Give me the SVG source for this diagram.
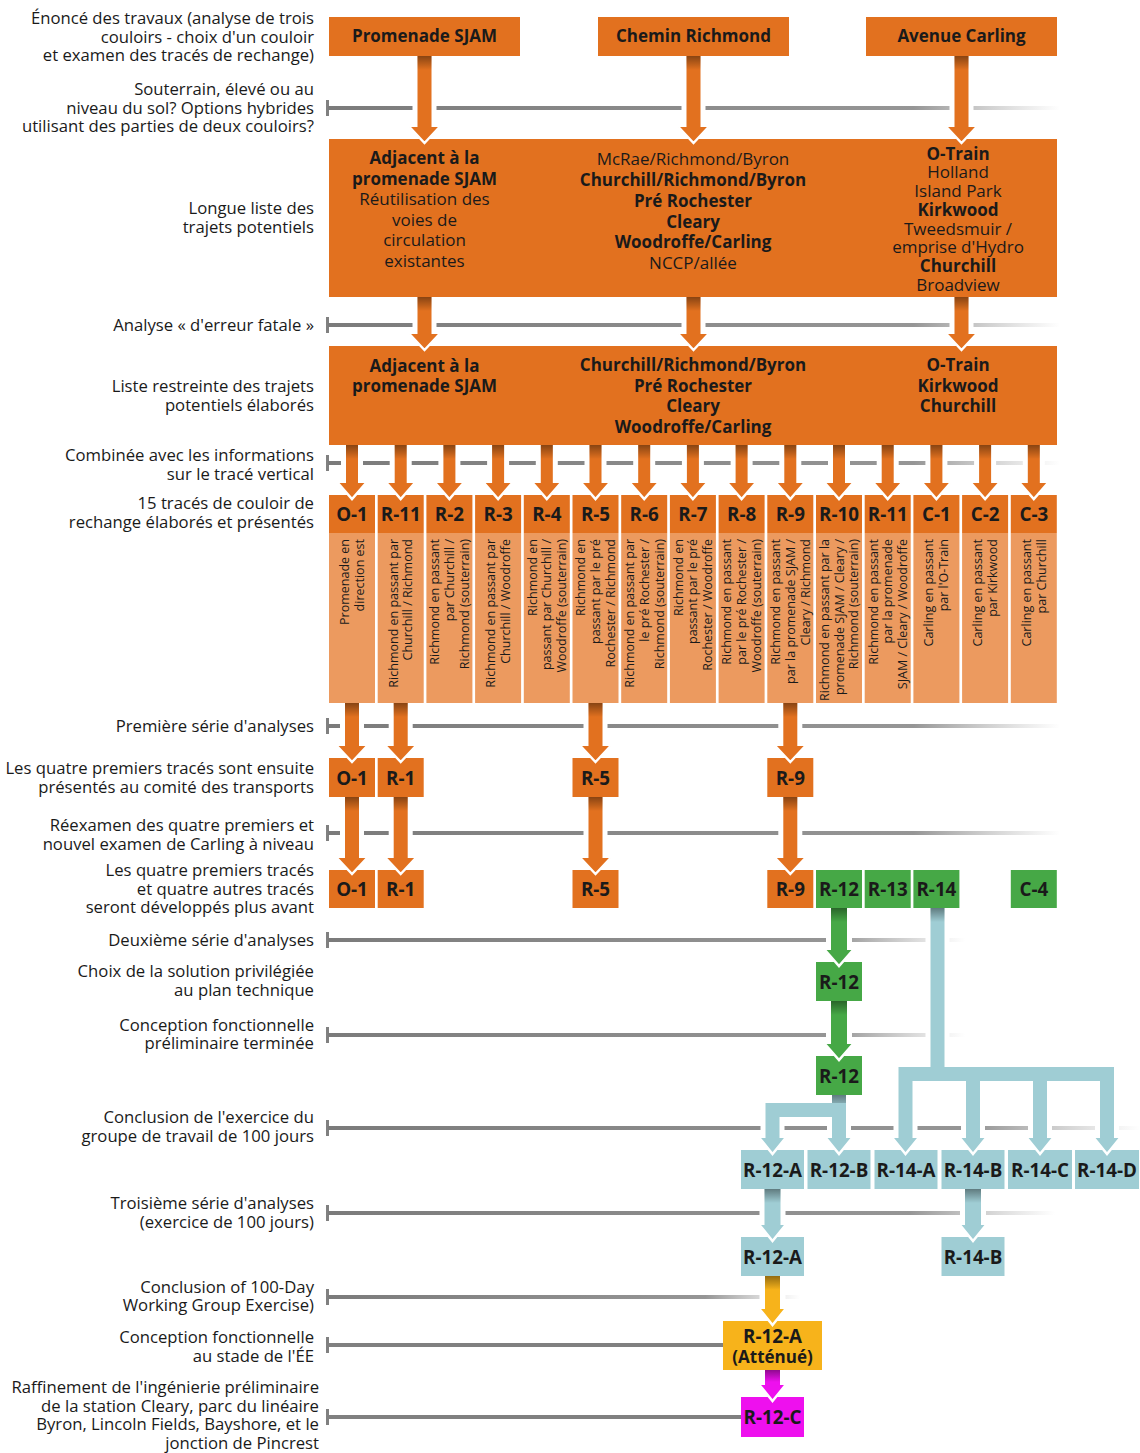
<svg xmlns="http://www.w3.org/2000/svg" width="1140" height="1453" viewBox="0 0 1140 1453">
<defs>
<linearGradient id="fade" x1="0" y1="0" x2="1" y2="0">
<stop offset="0" stop-color="#7b7b7b" stop-opacity="1"/>
<stop offset="0.8" stop-color="#8a8a8a" stop-opacity="0.9"/>
<stop offset="1" stop-color="#a0a0a0" stop-opacity="0"/>
</linearGradient>
<linearGradient id="sh" x1="0" y1="0" x2="0" y2="1">
<stop offset="0" stop-color="#000" stop-opacity="0.4"/>
<stop offset="1" stop-color="#000" stop-opacity="0"/>
</linearGradient>
<style>
text{font-family:"Open Sans","Noto Sans",sans-serif;fill:#1a1a1a}
.lbl{font-size:16.7px;text-anchor:end}
.bt{font-size:17px;font-weight:700;text-anchor:middle}
.nt{font-size:17px;text-anchor:middle}
.hd{font-size:18.8px;font-weight:700;text-anchor:middle}
.hs{font-size:17px;font-weight:700;text-anchor:middle}
.rt{font-size:12.5px;text-anchor:end}
.o{fill:#e2711f}
.lo{fill:#ec9a5f}
.g{fill:#46a846}
.b{fill:#9fcdd4}
.y{fill:#f7b31b}
.m{fill:#ee10ee}
.tl{fill:url(#fade)}
.tk{fill:#808080}
.halo{fill:#fff}
.chev{fill:none;stroke:#fff;stroke-width:2.5}
.shd{fill:url(#sh)}
</style>
</defs>

<g id="labels">
<text class="lbl" x="314" y="23.5">Énoncé des travaux (analyse de trois</text>
<text class="lbl" x="314" y="42.5">couloirs - choix d'un couloir</text>
<text class="lbl" x="314" y="60.5">et examen des tracés de rechange)</text>
<text class="lbl" x="314" y="94.5">Souterrain, élevé ou au</text>
<text class="lbl" x="314" y="113.5">niveau du sol? Options hybrides</text>
<text class="lbl" x="314" y="131.5">utilisant des parties de deux couloirs?</text>
<text class="lbl" x="314" y="213.5">Longue liste des</text>
<text class="lbl" x="314" y="232.5">trajets potentiels</text>
<text class="lbl" x="314" y="330.5">Analyse « d'erreur fatale »</text>
<text class="lbl" x="314" y="391.5">Liste restreinte des trajets</text>
<text class="lbl" x="314" y="410.5">potentiels élaborés</text>
<text class="lbl" x="314" y="460.5">Combinée avec les informations</text>
<text class="lbl" x="314" y="479.5">sur le tracé vertical</text>
<text class="lbl" x="314" y="508.5">15 tracés de couloir de</text>
<text class="lbl" x="314" y="527.5">rechange élaborés et présentés</text>
<text class="lbl" x="314" y="731.5">Première série d'analyses</text>
<text class="lbl" x="314" y="773.5">Les quatre premiers tracés sont ensuite</text>
<text class="lbl" x="314" y="792.5">présentés au comité des transports</text>
<text class="lbl" x="314" y="830.5">Réexamen des quatre premiers et</text>
<text class="lbl" x="314" y="849.5">nouvel examen de Carling à niveau</text>
<text class="lbl" x="314" y="875.5">Les quatre premiers tracés</text>
<text class="lbl" x="314" y="894.5">et quatre autres tracés</text>
<text class="lbl" x="314" y="912.5">seront développés plus avant</text>
<text class="lbl" x="314" y="945.5">Deuxième série d'analyses</text>
<text class="lbl" x="314" y="976.5">Choix de la solution privilégiée</text>
<text class="lbl" x="314" y="995.5">au plan technique</text>
<text class="lbl" x="314" y="1030.5">Conception fonctionnelle</text>
<text class="lbl" x="314" y="1048.5">préliminaire terminée</text>
<text class="lbl" x="314" y="1122.5">Conclusion de l'exercice du</text>
<text class="lbl" x="314" y="1141.5">groupe de travail de 100 jours</text>
<text class="lbl" x="314" y="1208.5">Troisième série d'analyses</text>
<text class="lbl" x="314" y="1227.5">(exercice de 100 jours)</text>
<text class="lbl" x="314" y="1292.5">Conclusion of 100-Day</text>
<text class="lbl" x="314" y="1310.5">Working Group Exercise)</text>
<text class="lbl" x="314" y="1342.5">Conception fonctionnelle</text>
<text class="lbl" x="314" y="1361.5">au stade de l'ÉE</text>
<text class="lbl" x="319" y="1392.5">Raffinement de l'ingénierie préliminaire</text>
<text class="lbl" x="319" y="1411.5">de la station Cleary, parc du linéaire</text>
<text class="lbl" x="319" y="1429.5">Byron, Lincoln Fields, Bayshore, et le</text>
<text class="lbl" x="319" y="1448.5">jonction de Pincrest</text>
</g>

<g id="timelines">
<rect class="tk" x="326" y="100" width="3" height="16"/><rect class="tl" x="328" y="106" width="732" height="4"/>
<rect class="tk" x="326" y="317" width="3" height="16"/><rect class="tl" x="328" y="323" width="732" height="4"/>
<rect class="tk" x="326" y="455" width="3" height="16"/><rect class="tl" x="328" y="461" width="732" height="4"/>
<rect class="tk" x="326" y="718" width="3" height="16"/><rect class="tl" x="328" y="724" width="732" height="4"/>
<rect class="tk" x="326" y="825" width="3" height="16"/><rect class="tl" x="328" y="831" width="732" height="4"/>
<rect class="tk" x="326" y="932" width="3" height="16"/><rect class="tl" x="328" y="938" width="637" height="4"/>
<rect class="tk" x="326" y="1027" width="3" height="16"/><rect class="tl" x="328" y="1033" width="637" height="4"/>
<rect class="tk" x="326" y="1120" width="3" height="16"/><rect class="tl" x="328" y="1126" width="812" height="4"/>
<rect class="tk" x="326" y="1205" width="3" height="16"/><rect class="tl" x="328" y="1211" width="727" height="4"/>
<rect class="tk" x="326" y="1289" width="3" height="16"/><rect class="tl" x="328" y="1295" width="472" height="4"/>
<rect class="tk" x="326" y="1337" width="3" height="16"/><rect class="tk" x="328" y="1343" width="396" height="4"/>
<rect class="tk" x="326" y="1409" width="3" height="16"/><rect class="tk" x="328" y="1415" width="414" height="4"/>
</g>

<g id="halos">
<rect class="halo" x="412.5" y="104" width="24" height="8"/><rect class="halo" x="681.5" y="104" width="24" height="8"/><rect class="halo" x="949.5" y="104" width="24" height="8"/>
<rect class="halo" x="412.5" y="321" width="24" height="8"/><rect class="halo" x="681.5" y="321" width="24" height="8"/><rect class="halo" x="949.5" y="321" width="24" height="8"/>
<rect class="halo" x="341" y="459" width="22" height="8"/><rect class="halo" x="389.7" y="459" width="22" height="8"/><rect class="halo" x="438.4" y="459" width="22" height="8"/><rect class="halo" x="487.1" y="459" width="22" height="8"/><rect class="halo" x="535.8" y="459" width="22" height="8"/><rect class="halo" x="584.5" y="459" width="22" height="8"/><rect class="halo" x="633.2" y="459" width="22" height="8"/><rect class="halo" x="681.9" y="459" width="22" height="8"/><rect class="halo" x="730.6" y="459" width="22" height="8"/><rect class="halo" x="779.3" y="459" width="22" height="8"/><rect class="halo" x="828" y="459" width="22" height="8"/><rect class="halo" x="876.7" y="459" width="22" height="8"/><rect class="halo" x="925.4" y="459" width="22" height="8"/><rect class="halo" x="974.1" y="459" width="22" height="8"/><rect class="halo" x="1022.8" y="459" width="22" height="8"/>
<rect class="halo" x="340" y="722" width="24" height="8"/><rect class="halo" x="388.7" y="722" width="24" height="8"/><rect class="halo" x="583.5" y="722" width="24" height="8"/><rect class="halo" x="778.3" y="722" width="24" height="8"/>
<rect class="halo" x="340" y="829" width="24" height="8"/><rect class="halo" x="388.7" y="829" width="24" height="8"/><rect class="halo" x="583.5" y="829" width="24" height="8"/><rect class="halo" x="778.3" y="829" width="24" height="8"/>
<rect class="halo" x="826" y="936" width="26" height="8"/><rect class="halo" x="925.5" y="936" width="24" height="8"/>
<rect class="halo" x="826" y="1031" width="26" height="8"/><rect class="halo" x="925.5" y="1031" width="24" height="8"/>
<rect class="halo" x="760.5" y="1124" width="24" height="8"/><rect class="halo" x="827" y="1124" width="24" height="8"/><rect class="halo" x="893.5" y="1124" width="24" height="8"/><rect class="halo" x="961" y="1124" width="24" height="8"/><rect class="halo" x="1028" y="1124" width="24" height="8"/><rect class="halo" x="1095" y="1124" width="24" height="8"/>
<rect class="halo" x="759.5" y="1209" width="26" height="8"/><rect class="halo" x="960" y="1209" width="26" height="8"/>
<rect class="halo" x="759.5" y="1293" width="26" height="8"/>
</g>

<g id="n-top-sjam"><rect class="o" x="329" y="17" width="191" height="39"/><text class="bt" x="424.5" y="42">Promenade SJAM</text></g>
<g id="n-top-richmond"><rect class="o" x="598" y="17" width="191" height="39"/><text class="bt" x="693.5" y="42">Chemin Richmond</text></g>
<g id="n-top-carling"><rect class="o" x="866" y="17" width="191" height="39"/><text class="bt" x="961.5" y="42">Avenue Carling</text></g>

<g id="n-longlist">
<rect class="o" x="329" y="139" width="728" height="158"/>
<text class="bt" x="424.5" y="164">Adjacent à la</text>
<text class="bt" x="424.5" y="184.5">promenade SJAM</text>
<text class="nt" x="424.5" y="205">Réutilisation des</text>
<text class="nt" x="424.5" y="225.5">voies de</text>
<text class="nt" x="424.5" y="246">circulation</text>
<text class="nt" x="424.5" y="266.5">existantes</text>
<text class="nt" x="693" y="165">McRae/Richmond/Byron</text>
<text class="bt" x="693" y="186">Churchill/Richmond/Byron</text>
<text class="bt" x="693" y="207">Pré Rochester</text>
<text class="bt" x="693" y="228">Cleary</text>
<text class="bt" x="693" y="248">Woodroffe/Carling</text>
<text class="nt" x="693" y="269">NCCP/allée</text>
<text class="bt" x="958" y="160">O-Train</text>
<text class="nt" x="958" y="178">Holland</text>
<text class="nt" x="958" y="197">Island Park</text>
<text class="bt" x="958" y="216">Kirkwood</text>
<text class="nt" x="958" y="235">Tweedsmuir /</text>
<text class="nt" x="958" y="253">emprise d'Hydro</text>
<text class="bt" x="958" y="272">Churchill</text>
<text class="nt" x="958" y="291">Broadview</text>
</g>

<g id="n-shortlist">
<rect class="o" x="329" y="346" width="728" height="99"/>
<text class="bt" x="424.5" y="372">Adjacent à la</text>
<text class="bt" x="424.5" y="392">promenade SJAM</text>
<text class="bt" x="693" y="371">Churchill/Richmond/Byron</text>
<text class="bt" x="693" y="392">Pré Rochester</text>
<text class="bt" x="693" y="412">Cleary</text>
<text class="bt" x="693" y="433">Woodroffe/Carling</text>
<text class="bt" x="958" y="371">O-Train</text>
<text class="bt" x="958" y="392">Kirkwood</text>
<text class="bt" x="958" y="412">Churchill</text>
</g>

<g id="n-c-O1"><rect class="o" x="329" y="495" width="46" height="38"/><rect class="lo" x="329" y="533" width="46" height="170"/><text class="hd" x="352" y="521">O-1</text>
<text class="rt" transform="translate(349,539) rotate(-90)"><tspan x="0" y="0">Promenade en</tspan><tspan x="0" y="14.8">direction est</tspan></text></g>
<g id="n-c-R11a"><rect class="o" x="377.7" y="495" width="46" height="38"/><rect class="lo" x="377.7" y="533" width="46" height="170"/><text class="hd" x="400.7" y="521">R-11</text>
<text class="rt" transform="translate(397.7,539) rotate(-90)"><tspan x="0" y="0">Richmond en passant par</tspan><tspan x="0" y="14.8">Churchill / Richmond</tspan></text></g>
<g id="n-c-R2"><rect class="o" x="426.4" y="495" width="46" height="38"/><rect class="lo" x="426.4" y="533" width="46" height="170"/><text class="hd" x="449.4" y="521">R-2</text>
<text class="rt" transform="translate(439.2,539) rotate(-90)"><tspan x="0" y="0">Richmond en passant</tspan><tspan x="0" y="14.8">par Churchill /</tspan><tspan x="0" y="29.6">Richmond (souterrain)</tspan></text></g>
<g id="n-c-R3"><rect class="o" x="475.1" y="495" width="46" height="38"/><rect class="lo" x="475.1" y="533" width="46" height="170"/><text class="hd" x="498.1" y="521">R-3</text>
<text class="rt" transform="translate(495.1,539) rotate(-90)"><tspan x="0" y="0">Richmond en passant par</tspan><tspan x="0" y="14.8">Churchill / Woodroffe</tspan></text></g>
<g id="n-c-R4"><rect class="o" x="523.8" y="495" width="46" height="38"/><rect class="lo" x="523.8" y="533" width="46" height="170"/><text class="hd" x="546.8" y="521">R-4</text>
<text class="rt" transform="translate(536.6,539) rotate(-90)"><tspan x="0" y="0">Richmond en</tspan><tspan x="0" y="14.8">passant par Churchill /</tspan><tspan x="0" y="29.6">Woodroffe (souterrain)</tspan></text></g>
<g id="n-c-R5"><rect class="o" x="572.5" y="495" width="46" height="38"/><rect class="lo" x="572.5" y="533" width="46" height="170"/><text class="hd" x="595.5" y="521">R-5</text>
<text class="rt" transform="translate(585.3,539) rotate(-90)"><tspan x="0" y="0">Richmond en</tspan><tspan x="0" y="14.8">passant par le pré</tspan><tspan x="0" y="29.6">Rochester / Richmond</tspan></text></g>
<g id="n-c-R6"><rect class="o" x="621.2" y="495" width="46" height="38"/><rect class="lo" x="621.2" y="533" width="46" height="170"/><text class="hd" x="644.2" y="521">R-6</text>
<text class="rt" transform="translate(634,539) rotate(-90)"><tspan x="0" y="0">Richmond en passant par</tspan><tspan x="0" y="14.8">le pré Rochester /</tspan><tspan x="0" y="29.6">Richmond (souterrain)</tspan></text></g>
<g id="n-c-R7"><rect class="o" x="669.9" y="495" width="46" height="38"/><rect class="lo" x="669.9" y="533" width="46" height="170"/><text class="hd" x="692.9" y="521">R-7</text>
<text class="rt" transform="translate(682.7,539) rotate(-90)"><tspan x="0" y="0">Richmond en</tspan><tspan x="0" y="14.8">passant par le pré</tspan><tspan x="0" y="29.6">Rochester / Woodroffe</tspan></text></g>
<g id="n-c-R8"><rect class="o" x="718.6" y="495" width="46" height="38"/><rect class="lo" x="718.6" y="533" width="46" height="170"/><text class="hd" x="741.6" y="521">R-8</text>
<text class="rt" transform="translate(731.4,539) rotate(-90)"><tspan x="0" y="0">Richmond en passant</tspan><tspan x="0" y="14.8">par le pré Rochester /</tspan><tspan x="0" y="29.6">Woodroffe  (souterrain)</tspan></text></g>
<g id="n-c-R9"><rect class="o" x="767.3" y="495" width="46" height="38"/><rect class="lo" x="767.3" y="533" width="46" height="170"/><text class="hd" x="790.3" y="521">R-9</text>
<text class="rt" transform="translate(780.1,539) rotate(-90)"><tspan x="0" y="0">Richmond en passant</tspan><tspan x="0" y="14.8">par la promenade SJAM /</tspan><tspan x="0" y="29.6">Cleary / Richmond</tspan></text></g>
<g id="n-c-R10"><rect class="o" x="816" y="495" width="46" height="38"/><rect class="lo" x="816" y="533" width="46" height="170"/><text class="hd" x="839" y="521">R-10</text>
<text class="rt" transform="translate(828.8,539) rotate(-90)"><tspan x="0" y="0">Richmond en passant par la</tspan><tspan x="0" y="14.8">promenade SJAM / Cleary /</tspan><tspan x="0" y="29.6">Richmond (souterrain)</tspan></text></g>
<g id="n-c-R11b"><rect class="o" x="864.7" y="495" width="46" height="38"/><rect class="lo" x="864.7" y="533" width="46" height="170"/><text class="hd" x="887.7" y="521">R-11</text>
<text class="rt" transform="translate(877.5,539) rotate(-90)"><tspan x="0" y="0">Richmond en passant</tspan><tspan x="0" y="14.8">par la promenade</tspan><tspan x="0" y="29.6">SJAM / Cleary / Woodroffe</tspan></text></g>
<g id="n-c-C1"><rect class="o" x="913.4" y="495" width="46" height="38"/><rect class="lo" x="913.4" y="533" width="46" height="170"/><text class="hd" x="936.4" y="521">C-1</text>
<text class="rt" transform="translate(933.4,539) rotate(-90)"><tspan x="0" y="0">Carling en passant</tspan><tspan x="0" y="14.8">par l'O-Train</tspan></text></g>
<g id="n-c-C2"><rect class="o" x="962.1" y="495" width="46" height="38"/><rect class="lo" x="962.1" y="533" width="46" height="170"/><text class="hd" x="985.1" y="521">C-2</text>
<text class="rt" transform="translate(982.1,539) rotate(-90)"><tspan x="0" y="0">Carling en passant</tspan><tspan x="0" y="14.8">par Kirkwood</tspan></text></g>
<g id="n-c-C3"><rect class="o" x="1010.8" y="495" width="46" height="38"/><rect class="lo" x="1010.8" y="533" width="46" height="170"/><text class="hd" x="1033.8" y="521">C-3</text>
<text class="rt" transform="translate(1030.8,539) rotate(-90)"><tspan x="0" y="0">Carling en passant</tspan><tspan x="0" y="14.8">par Churchill</tspan></text></g>

<g id="n-r1-O1"><rect class="o" x="329" y="758" width="46" height="39"/><text class="hd" x="352" y="784.5">O-1</text></g>
<g id="n-r1-R1"><rect class="o" x="377.7" y="758" width="46" height="39"/><text class="hd" x="400.7" y="784.5">R-1</text></g>
<g id="n-r1-R5"><rect class="o" x="572.5" y="758" width="46" height="39"/><text class="hd" x="595.5" y="784.5">R-5</text></g>
<g id="n-r1-R9"><rect class="o" x="767.3" y="758" width="46" height="39"/><text class="hd" x="790.3" y="784.5">R-9</text></g>

<g id="n-r2-O1"><rect class="o" x="329" y="870" width="46" height="38"/><text class="hd" x="352" y="895.5">O-1</text></g>
<g id="n-r2-R1"><rect class="o" x="377.7" y="870" width="46" height="38"/><text class="hd" x="400.7" y="895.5">R-1</text></g>
<g id="n-r2-R5"><rect class="o" x="572.5" y="870" width="46" height="38"/><text class="hd" x="595.5" y="895.5">R-5</text></g>
<g id="n-r2-R9"><rect class="o" x="767.3" y="870" width="46" height="38"/><text class="hd" x="790.3" y="895.5">R-9</text></g>
<g id="n-r2-R12"><rect class="g" x="816" y="870" width="46" height="38"/><text class="hd" x="839" y="895.5">R-12</text></g>
<g id="n-r2-R13"><rect class="g" x="864.7" y="870" width="46" height="38"/><text class="hd" x="887.7" y="895.5">R-13</text></g>
<g id="n-r2-R14"><rect class="g" x="913.4" y="870" width="46" height="38"/><text class="hd" x="936.4" y="895.5">R-14</text></g>
<g id="n-r2-C4"><rect class="g" x="1010.8" y="870" width="46" height="38"/><text class="hd" x="1033.8" y="895.5">C-4</text></g>

<g id="n-R12-choix"><rect class="g" x="816" y="962" width="46" height="39"/><text class="hd" x="839" y="988.5">R-12</text></g>
<g id="n-R12-prelim"><rect class="g" x="816" y="1056" width="46" height="39"/><text class="hd" x="839" y="1082.5">R-12</text></g>

<g id="n-R12A"><rect class="b" x="741" y="1150" width="63" height="39"/><text class="hd" x="772.5" y="1176.5">R-12-A</text></g>
<g id="n-R12B"><rect class="b" x="807.5" y="1150" width="63" height="39"/><text class="hd" x="839" y="1176.5">R-12-B</text></g>
<g id="n-R14A"><rect class="b" x="874.5" y="1150" width="63" height="39"/><text class="hd" x="906" y="1176.5">R-14-A</text></g>
<g id="n-R14B"><rect class="b" x="941.5" y="1150" width="63" height="39"/><text class="hd" x="973" y="1176.5">R-14-B</text></g>
<g id="n-R14C"><rect class="b" x="1008" y="1150" width="64" height="39"/><text class="hd" x="1040" y="1176.5">R-14-C</text></g>
<g id="n-R14D"><rect class="b" x="1075" y="1150" width="64" height="39"/><text class="hd" x="1107" y="1176.5">R-14-D</text></g>

<g id="n-R12A-2"><rect class="b" x="741" y="1237" width="63" height="39"/><text class="hd" x="772.5" y="1263.5">R-12-A</text></g>
<g id="n-R14B-2"><rect class="b" x="941.5" y="1237" width="63" height="39"/><text class="hd" x="973" y="1263.5">R-14-B</text></g>

<g id="n-R12A-att"><rect class="y" x="723" y="1321" width="99" height="49"/><text class="hd" x="772.5" y="1343">R-12-A</text><text class="hs" x="772.5" y="1362.5">(Atténué)</text></g>
<g id="n-R12C"><rect class="m" x="741" y="1397" width="63" height="40"/><text class="hd" x="772.5" y="1423.5">R-12-C</text></g>

<g id="connectors">
<rect class="o" x="417.5" y="56" width="14" height="71"/><rect class="shd" x="417.5" y="56" width="14" height="14"/><polygon class="o" points="409.5,127 439.5,127 424.5,143"/><polyline class="chev" points="409.5,127 424.5,143 439.5,127"/>
<rect class="o" x="686.5" y="56" width="14" height="71"/><rect class="shd" x="686.5" y="56" width="14" height="14"/><polygon class="o" points="678.5,127 708.5,127 693.5,143"/><polyline class="chev" points="678.5,127 693.5,143 708.5,127"/>
<rect class="o" x="954.5" y="56" width="14" height="71"/><rect class="shd" x="954.5" y="56" width="14" height="14"/><polygon class="o" points="946.5,127 976.5,127 961.5,143"/><polyline class="chev" points="946.5,127 961.5,143 976.5,127"/>
<rect class="o" x="417.5" y="297" width="14" height="37"/><rect class="shd" x="417.5" y="297" width="14" height="14"/><polygon class="o" points="409.5,334 439.5,334 424.5,350"/><polyline class="chev" points="409.5,334 424.5,350 439.5,334"/>
<rect class="o" x="686.5" y="297" width="14" height="37"/><rect class="shd" x="686.5" y="297" width="14" height="14"/><polygon class="o" points="678.5,334 708.5,334 693.5,350"/><polyline class="chev" points="678.5,334 693.5,350 708.5,334"/>
<rect class="o" x="954.5" y="297" width="14" height="37"/><rect class="shd" x="954.5" y="297" width="14" height="14"/><polygon class="o" points="946.5,334 976.5,334 961.5,350"/><polyline class="chev" points="946.5,334 961.5,350 976.5,334"/>
<g id="col-arrows">
<rect class="o" x="346" y="445" width="12" height="38"/><rect class="shd" x="346" y="445" width="12" height="14"/><polygon class="o" points="338,483 366,483 352,499"/><polyline class="chev" points="338,483 352,499 366,483"/>
<rect class="o" x="394.7" y="445" width="12" height="38"/><rect class="shd" x="394.7" y="445" width="12" height="14"/><polygon class="o" points="386.7,483 414.7,483 400.7,499"/><polyline class="chev" points="386.7,483 400.7,499 414.7,483"/>
<rect class="o" x="443.4" y="445" width="12" height="38"/><rect class="shd" x="443.4" y="445" width="12" height="14"/><polygon class="o" points="435.4,483 463.4,483 449.4,499"/><polyline class="chev" points="435.4,483 449.4,499 463.4,483"/>
<rect class="o" x="492.1" y="445" width="12" height="38"/><rect class="shd" x="492.1" y="445" width="12" height="14"/><polygon class="o" points="484.1,483 512.1,483 498.1,499"/><polyline class="chev" points="484.1,483 498.1,499 512.1,483"/>
<rect class="o" x="540.8" y="445" width="12" height="38"/><rect class="shd" x="540.8" y="445" width="12" height="14"/><polygon class="o" points="532.8,483 560.8,483 546.8,499"/><polyline class="chev" points="532.8,483 546.8,499 560.8,483"/>
<rect class="o" x="589.5" y="445" width="12" height="38"/><rect class="shd" x="589.5" y="445" width="12" height="14"/><polygon class="o" points="581.5,483 609.5,483 595.5,499"/><polyline class="chev" points="581.5,483 595.5,499 609.5,483"/>
<rect class="o" x="638.2" y="445" width="12" height="38"/><rect class="shd" x="638.2" y="445" width="12" height="14"/><polygon class="o" points="630.2,483 658.2,483 644.2,499"/><polyline class="chev" points="630.2,483 644.2,499 658.2,483"/>
<rect class="o" x="686.9" y="445" width="12" height="38"/><rect class="shd" x="686.9" y="445" width="12" height="14"/><polygon class="o" points="678.9,483 706.9,483 692.9,499"/><polyline class="chev" points="678.9,483 692.9,499 706.9,483"/>
<rect class="o" x="735.6" y="445" width="12" height="38"/><rect class="shd" x="735.6" y="445" width="12" height="14"/><polygon class="o" points="727.6,483 755.6,483 741.6,499"/><polyline class="chev" points="727.6,483 741.6,499 755.6,483"/>
<rect class="o" x="784.3" y="445" width="12" height="38"/><rect class="shd" x="784.3" y="445" width="12" height="14"/><polygon class="o" points="776.3,483 804.3,483 790.3,499"/><polyline class="chev" points="776.3,483 790.3,499 804.3,483"/>
<rect class="o" x="833" y="445" width="12" height="38"/><rect class="shd" x="833" y="445" width="12" height="14"/><polygon class="o" points="825,483 853,483 839,499"/><polyline class="chev" points="825,483 839,499 853,483"/>
<rect class="o" x="881.7" y="445" width="12" height="38"/><rect class="shd" x="881.7" y="445" width="12" height="14"/><polygon class="o" points="873.7,483 901.7,483 887.7,499"/><polyline class="chev" points="873.7,483 887.7,499 901.7,483"/>
<rect class="o" x="930.4" y="445" width="12" height="38"/><rect class="shd" x="930.4" y="445" width="12" height="14"/><polygon class="o" points="922.4,483 950.4,483 936.4,499"/><polyline class="chev" points="922.4,483 936.4,499 950.4,483"/>
<rect class="o" x="979.1" y="445" width="12" height="38"/><rect class="shd" x="979.1" y="445" width="12" height="14"/><polygon class="o" points="971.1,483 999.1,483 985.1,499"/><polyline class="chev" points="971.1,483 985.1,499 999.1,483"/>
<rect class="o" x="1027.8" y="445" width="12" height="38"/><rect class="shd" x="1027.8" y="445" width="12" height="14"/><polygon class="o" points="1019.8,483 1047.8,483 1033.8,499"/><polyline class="chev" points="1019.8,483 1033.8,499 1047.8,483"/>
</g>
<rect class="o" x="345" y="703" width="14" height="43"/><rect class="shd" x="345" y="703" width="14" height="14"/><polygon class="o" points="337,746 367,746 352,762"/><polyline class="chev" points="337,746 352,762 367,746"/>
<rect class="o" x="393.7" y="703" width="14" height="43"/><rect class="shd" x="393.7" y="703" width="14" height="14"/><polygon class="o" points="385.7,746 415.7,746 400.7,762"/><polyline class="chev" points="385.7,746 400.7,762 415.7,746"/>
<rect class="o" x="588.5" y="703" width="14" height="43"/><rect class="shd" x="588.5" y="703" width="14" height="14"/><polygon class="o" points="580.5,746 610.5,746 595.5,762"/><polyline class="chev" points="580.5,746 595.5,762 610.5,746"/>
<rect class="o" x="783.3" y="703" width="14" height="43"/><rect class="shd" x="783.3" y="703" width="14" height="14"/><polygon class="o" points="775.3,746 805.3,746 790.3,762"/><polyline class="chev" points="775.3,746 790.3,762 805.3,746"/>
<rect class="o" x="345" y="797" width="14" height="61"/><rect class="shd" x="345" y="797" width="14" height="14"/><polygon class="o" points="337,858 367,858 352,874"/><polyline class="chev" points="337,858 352,874 367,858"/>
<rect class="o" x="393.7" y="797" width="14" height="61"/><rect class="shd" x="393.7" y="797" width="14" height="14"/><polygon class="o" points="385.7,858 415.7,858 400.7,874"/><polyline class="chev" points="385.7,858 400.7,874 415.7,858"/>
<rect class="o" x="588.5" y="797" width="14" height="61"/><rect class="shd" x="588.5" y="797" width="14" height="14"/><polygon class="o" points="580.5,858 610.5,858 595.5,874"/><polyline class="chev" points="580.5,858 595.5,874 610.5,858"/>
<rect class="o" x="783.3" y="797" width="14" height="61"/><rect class="shd" x="783.3" y="797" width="14" height="14"/><polygon class="o" points="775.3,858 805.3,858 790.3,874"/><polyline class="chev" points="775.3,858 790.3,874 805.3,858"/>
<rect class="g" x="831" y="908" width="16" height="42"/><rect class="shd" x="831" y="908" width="16" height="14"/><polygon class="g" points="825,950 853,950 839,966"/><polyline class="chev" points="825,950 839,966 853,950"/>
<rect class="g" x="831" y="1001" width="16" height="43"/><rect class="shd" x="831" y="1001" width="16" height="14"/><polygon class="g" points="825,1044 853,1044 839,1060"/><polyline class="chev" points="825,1044 839,1060 853,1044"/>
<rect class="b" x="930.5" y="908" width="14" height="173"/><rect class="shd" x="930.5" y="908" width="14" height="14"/>
<rect class="b" x="898.5" y="1067" width="215.5" height="14"/>
<rect class="b" x="898.5" y="1081" width="14" height="57"/><polygon class="b" points="892.5,1138 918.5,1138 905.5,1154"/><polyline class="chev" points="892.5,1138 905.5,1154 918.5,1138"/>
<rect class="b" x="966" y="1081" width="14" height="57"/><polygon class="b" points="960,1138 986,1138 973,1154"/><polyline class="chev" points="960,1138 973,1154 986,1138"/>
<rect class="b" x="1033" y="1081" width="14" height="57"/><polygon class="b" points="1027,1138 1053,1138 1040,1154"/><polyline class="chev" points="1027,1138 1040,1154 1053,1138"/>
<rect class="b" x="1100" y="1081" width="14" height="57"/><polygon class="b" points="1094,1138 1120,1138 1107,1154"/><polyline class="chev" points="1094,1138 1107,1154 1120,1138"/>
<rect class="b" x="832" y="1095" width="14" height="43"/><rect class="shd" x="832" y="1095" width="14" height="14"/>
<rect class="b" x="765.5" y="1103" width="80.5" height="14"/>
<rect class="b" x="765.5" y="1117" width="14" height="21"/>
<polygon class="b" points="826,1138 852,1138 839,1154"/><polyline class="chev" points="826,1138 839,1154 852,1138"/>
<polygon class="b" points="759.5,1138 785.5,1138 772.5,1154"/><polyline class="chev" points="759.5,1138 772.5,1154 785.5,1138"/>
<rect class="b" x="764.5" y="1189" width="16" height="36"/><rect class="shd" x="764.5" y="1189" width="16" height="14"/><polygon class="b" points="759.5,1225 785.5,1225 772.5,1241"/><polyline class="chev" points="759.5,1225 772.5,1241 785.5,1225"/>
<rect class="b" x="965" y="1189" width="16" height="36"/><rect class="shd" x="965" y="1189" width="16" height="14"/><polygon class="b" points="960,1225 986,1225 973,1241"/><polyline class="chev" points="960,1225 973,1241 986,1225"/>
<rect class="y" x="765" y="1276" width="15" height="33"/><rect class="shd" x="765" y="1276" width="15" height="14"/><polygon class="y" points="759.5,1309 785.5,1309 772.5,1325"/><polyline class="chev" points="759.5,1309 772.5,1325 785.5,1309"/>
<rect class="m" x="765" y="1370" width="15" height="15"/><rect class="shd" x="765" y="1370" width="15" height="12"/><polygon class="m" points="759.5,1385 785.5,1385 772.5,1401"/><polyline class="chev" points="759.5,1385 772.5,1401 785.5,1385"/>
</g>
</svg>
